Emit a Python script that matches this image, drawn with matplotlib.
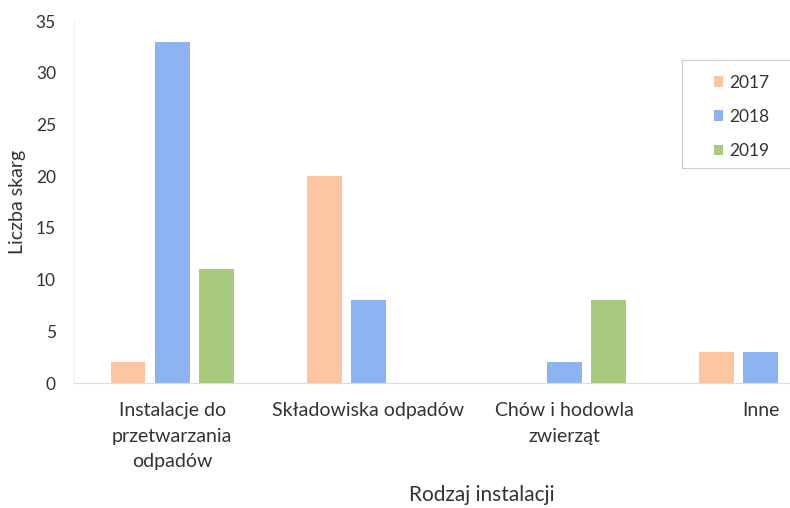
import numpy as np
import matplotlib.pyplot as plt
from matplotlib.patches import Rectangle

plt.rcParams['font.family'] = ['Lato', 'DejaVu Sans']

categories = ['Instalacje do\nprzetwarzania\nodpadów', 'Składowiska odpadów',
              'Chów i hodowla\nzwierząt', 'Inne']
years = ['2017', '2018', '2019']
v2017 = [2, 20, 0, 3]
v2018 = [33, 8, 2, 3]
v2019 = [11, 0, 8, 0]
colors = ['#FBC6A0', '#8EB3F1', '#A9CA7C']

fig = plt.figure(figsize=(7.9, 5.08), dpi=100)
# the plot area runs past the right edge of the picture (cropped scan)
ax = fig.add_axes([74 / 790, 1 - 383 / 508, (859 - 74) / 790, (383 - 21) / 508])

x = np.arange(len(categories))
width = 0.178
offsets = [-0.225, 0, 0.225]
for vals, off, c, lab in zip([v2017, v2018, v2019], offsets, colors, years):
    ax.bar(x + off, vals, width, color=c, label=lab)

ax.set_xlim(-0.5, len(categories) - 0.5)
ax.set_ylim(0, 35)
ax.set_yticks(range(0, 36, 5))
ax.set_xticks(x)
ax.set_xticklabels(categories, fontsize=14, color='#333333', linespacing=1.58)
ax.tick_params(axis='x', length=0, pad=14)
ax.tick_params(axis='y', length=0, pad=13, labelsize=12.5, labelcolor='#333333')

for s in ['top', 'right']:
    ax.spines[s].set_visible(False)
ax.spines['left'].set_color('#eeeeee')
ax.spines['bottom'].set_color('#dddddd')
ax.spines['left'].set_linewidth(0.8)
ax.spines['bottom'].set_linewidth(0.8)

ax.set_ylabel('Liczba skarg', fontsize=14, color='#333333', labelpad=7)
fig.text(482 / 790, 1 - 495 / 508, 'Rodzaj instalacji', fontsize=15,
         color='#333333', ha='center', va='center')

# legend with a frame that goes off the right side
fig.patches.append(Rectangle((682 / 790, 1 - 168 / 508), 130 / 790, 108 / 508,
                             transform=fig.transFigure, facecolor='white',
                             edgecolor='#cccccc', linewidth=0.8))
fig.legend(loc='upper left', bbox_to_anchor=(698 / 790, 1 - 59 / 508),
           frameon=False, fontsize=12.5, handlelength=0.55, handleheight=0.55,
           handletextpad=0.35, labelspacing=1.05, labelcolor='#333333')

fig.savefig('out.png', dpi=100)
